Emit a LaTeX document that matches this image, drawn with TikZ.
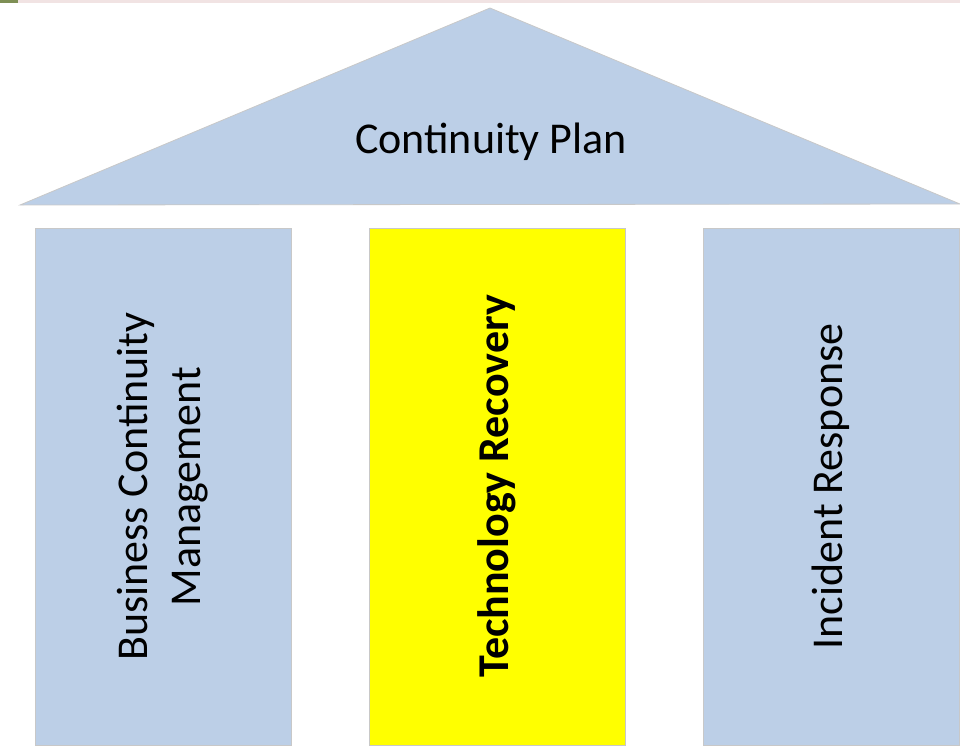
\documentclass[tikz,border=0pt]{standalone}
\usepackage{fontspec}
\setmainfont{Carlito}
\definecolor{roofblue}{HTML}{BCCFE7}
\definecolor{edgegray}{HTML}{C8C8C8}
\definecolor{stripred}{HTML}{F1E3E3}
\definecolor{stripgreen}{HTML}{7E8F55}
\definecolor{techyellow}{HTML}{FFFF00}
\begin{document}
\begin{tikzpicture}[x=1pt,y=-1pt,
  pillar/.style={draw=edgegray,line width=0.8pt,fill=roofblue,rotate=90,
    minimum width=517pt,minimum height=256pt,inner sep=0pt,align=center,
    font=\fontsize{44}{53}\selectfont},
  roof/.style={draw=edgegray,line width=0.8pt,fill=roofblue}]
\useasboundingbox (0,0) rectangle (960,747);
\fill [stripred] (0,0) rectangle (960,2.5);
\fill [stripgreen] (0,0) rectangle (18,2.5);
\draw [roof] (20,205) -- (490,8) -- (960,204) -- cycle;
\node [anchor=base,font=\fontsize{44}{53}\selectfont] (plan) at (491,153.5) {Continuity Plan};
\node [pillar] (bcm) at (163,486.5) {Business Continuity\\Management};
\node [pillar,fill=techyellow,font=\fontsize{44}{53}\selectfont\bfseries] (tech) at (497,486.5) {Technology Recovery};
\node [pillar] (inc) at (831,486.5) {Incident Response};
\end{tikzpicture}
\end{document}
